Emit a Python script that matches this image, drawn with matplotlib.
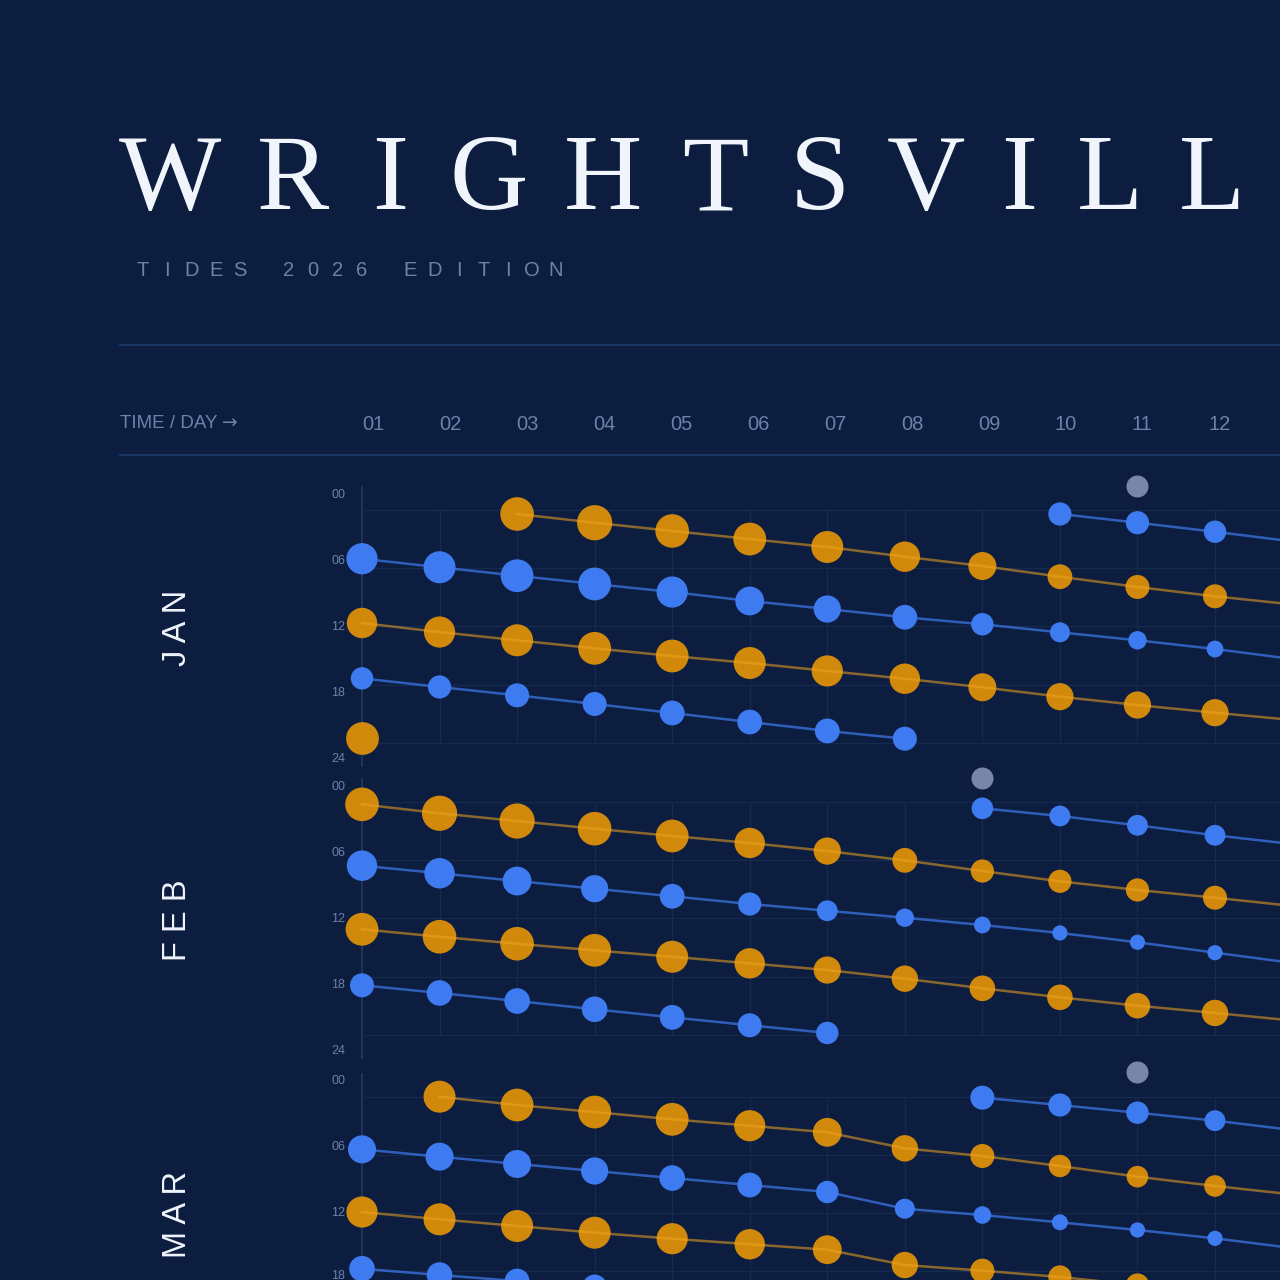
import numpy as np
import matplotlib
matplotlib.use('Agg')
import matplotlib.pyplot as plt
from matplotlib.lines import Line2D

# ─────────────────────────────────────────────
# DATA  (tide time in hours after midnight, size = tidal magnitude in ft)
# orange = high water, blue = low water; runs start on the given day
# ─────────────────────────────────────────────
DAY_LABELS = ['01', '02', '03', '04', '05', '06', '07', '08', '09', '10', '11', '12']
HOUR_LABELS = ['00', '06', '12', '18', '24']
MONTHS = ['JAN', 'FEB', 'MAR']

# January
jan_high1_day0 = 3
jan_high1_hour = [0.41, 1.31, 2.16, 2.99, 3.81, 4.81, 5.77, 6.87, 7.93, 8.89, 9.73]
jan_high1_ft = [4.2, 4.4, 4.2, 4.1, 4.0, 3.8, 3.5, 3.1, 3.0, 3.0, 3.0]
jan_low1_day0 = 1
jan_low1_hour = [5.02, 5.90, 6.77, 7.62, 8.45, 9.37, 10.20, 11.05, 11.77, 12.60, 13.42, 14.32, 15.35]
jan_low1_ft = [3.9, 4.0, 4.1, 4.1, 3.9, 3.6, 3.4, 3.1, 2.8, 2.5, 2.3, 2.1, 2.0]
jan_high2_day0 = 1
jan_high2_hour = [11.64, 12.57, 13.42, 14.25, 15.04, 15.76, 16.58, 17.38, 18.26, 19.23, 20.09, 20.88, 21.63]
jan_high2_ft = [3.8, 3.9, 4.0, 4.1, 4.1, 4.0, 3.9, 3.8, 3.5, 3.4, 3.4, 3.4, 3.0]
jan_low2_day0 = 1
jan_low2_hour = [17.34, 18.23, 19.09, 19.98, 20.91, 21.84, 22.76, 23.56]
jan_low2_ft = [2.8, 2.9, 3.0, 3.0, 3.1, 3.1, 3.1, 3.0]
jan_high3_day0 = 1
jan_high3_hour = [23.45]
jan_high3_ft = [4.1]
jan_low3_day0 = 10
jan_low3_hour = [0.41, 1.31, 2.24, 3.24]
jan_low3_ft = [2.9, 2.9, 2.8, 2.8]
jan_moon_day = 11

# February
feb_high1_day0 = 1
feb_high1_hour = [0.24, 1.16, 1.96, 2.75, 3.50, 4.22, 5.05, 6.01, 7.11, 8.17, 9.06, 9.86, 10.71]
feb_high1_ft = [4.2, 4.4, 4.4, 4.2, 4.1, 3.8, 3.4, 3.1, 2.9, 2.9, 2.9, 3.0, 3.0]
feb_low1_day0 = 1
feb_low1_hour = [6.56, 7.34, 8.14, 8.93, 9.71, 10.51, 11.20, 11.92, 12.67, 13.49, 14.45, 15.52, 16.58]
feb_low1_ft = [3.8, 3.8, 3.6, 3.4, 3.1, 2.9, 2.6, 2.3, 2.1, 1.9, 1.9, 1.9, 1.9]
feb_high2_day0 = 1
feb_high2_hour = [13.11, 13.88, 14.60, 15.28, 15.94, 16.62, 17.31, 18.20, 19.19, 20.12, 20.98, 21.73, 22.51]
feb_high2_ft = [4.1, 4.2, 4.2, 4.1, 4.0, 3.8, 3.4, 3.3, 3.2, 3.2, 3.2, 3.3, 3.0]
feb_low2_day0 = 1
feb_low2_hour = [18.88, 19.67, 20.50, 21.35, 22.18, 23.00, 23.79]
feb_low2_ft = [3.0, 3.2, 3.2, 3.2, 3.1, 3.0, 2.8]
feb_low3_day0 = 9
feb_low3_hour = [0.65, 1.44, 2.40, 3.43, 4.33]
feb_low3_ft = [2.7, 2.6, 2.6, 2.6, 2.6]
feb_moon_day = 9

# March (clock change between the 7th and the 8th)
mar_high1_day0 = 2
mar_high1_hour = [0.02, 0.88, 1.60, 2.35, 3.01, 3.69, 5.34, 6.13, 7.16, 8.26, 9.22, 10.09]
mar_high1_ft = [4.0, 4.1, 4.1, 4.1, 3.9, 3.6, 3.3, 3.0, 2.8, 2.7, 2.7, 2.8]
mar_low1_day0 = 1
mar_low1_hour = [5.44, 6.20, 6.95, 7.67, 8.40, 9.12, 9.84, 11.56, 12.21, 12.96, 13.75, 14.61, 15.61]
mar_low1_ft = [3.5, 3.5, 3.5, 3.4, 3.2, 3.1, 2.8, 2.5, 2.2, 2.0, 1.9, 1.9, 1.9]
mar_high2_day0 = 1
mar_high2_hour = [11.90, 12.65, 13.34, 14.03, 14.65, 15.22, 15.78, 17.36, 17.94, 18.59, 19.42, 20.24, 21.07]
mar_high2_ft = [3.9, 4.0, 4.0, 4.0, 3.9, 3.8, 3.6, 3.3, 3.0, 2.9, 2.9, 3.0, 3.0]
mar_low2_day0 = 1
mar_low2_hour = [17.74, 18.39, 19.01, 19.62, 20.24, 20.86, 21.48]
mar_low2_ft = [3.2, 3.2, 3.1, 3.1, 3.0, 2.9, 2.8]
mar_low3_day0 = 9
mar_low3_hour = [0.12, 0.88, 1.67, 2.49, 3.45]
mar_low3_ft = [3.0, 2.9, 2.8, 2.6, 2.6]
mar_moon_day = 11

panels = [
    ('JAN', [('high', jan_high1_day0, jan_high1_hour, jan_high1_ft),
             ('low', jan_low1_day0, jan_low1_hour, jan_low1_ft),
             ('high', jan_high2_day0, jan_high2_hour, jan_high2_ft),
             ('low', jan_low2_day0, jan_low2_hour, jan_low2_ft),
             ('high', jan_high3_day0, jan_high3_hour, jan_high3_ft),
             ('low', jan_low3_day0, jan_low3_hour, jan_low3_ft)], jan_moon_day),
    ('FEB', [('high', feb_high1_day0, feb_high1_hour, feb_high1_ft),
             ('low', feb_low1_day0, feb_low1_hour, feb_low1_ft),
             ('high', feb_high2_day0, feb_high2_hour, feb_high2_ft),
             ('low', feb_low2_day0, feb_low2_hour, feb_low2_ft),
             ('low', feb_low3_day0, feb_low3_hour, feb_low3_ft)], feb_moon_day),
    ('MAR', [('high', mar_high1_day0, mar_high1_hour, mar_high1_ft),
             ('low', mar_low1_day0, mar_low1_hour, mar_low1_ft),
             ('high', mar_high2_day0, mar_high2_hour, mar_high2_ft),
             ('low', mar_low2_day0, mar_low2_hour, mar_low2_ft),
             ('low', mar_low3_day0, mar_low3_hour, mar_low3_ft)], mar_moon_day),
]

# ─────────────────────────────────────────────
# STYLE / LAYOUT
# ─────────────────────────────────────────────
BG = '#0c1d3f'
HIGH = '#d1890c'
HIGH_LINE = '#f0a420'
LOW = '#3f7bf0'
MOON = '#7886aa'
GRID = '#142a4f'
SPINE = '#1c355f'
RULE = '#1b3764'
MUTED = '#6c82aa'
WHITE = '#f0f4fb'

W = H = 1280
DAY1_X, PX_DAY = 362, 77.545     # pixel x of day 1, pixels per day
PX_HOUR = 9.708                  # pixels per hour inside a month panel
PANEL_TOP = [510, 802, 1096.5]   # pixel y of 00:00 grid line
PX_FT = 8                        # dot diameter in px per ft


def fx(x):
    return x / W


def fy(y):
    return 1 - y / H


def dot_area(d_px):
    return (np.asarray(d_px) * 0.72) ** 2


fig = plt.figure(figsize=(12.8, 12.8), dpi=100)
fig.patch.set_facecolor(BG)

# ── Title block (letter-spaced masthead; the poster is cropped after the last L) ──
title_x = [170, 293, 390, 489, 603, 715, 820, 926, 1019, 1110, 1212]
for ch, cx in zip('WRIGHTSVILL', title_x):
    fig.text(fx(cx), fy(209), ch, ha='center', va='baseline', fontsize=78,
             family='Liberation Serif', color=WHITE)

sub = 'TIDES 2026 EDITION'
for i, ch in enumerate(sub):
    if ch != ' ':
        fig.text(fx(143 + 24.3 * i), fy(276), ch, ha='center', va='baseline',
                 fontsize=14.5, family='Liberation Sans', color=MUTED)

for y in (345, 455):
    fig.add_artist(Line2D([fx(120), 1.0], [fy(y), fy(y)], color=RULE, lw=1.4))

# ── Header row ──
fig.text(fx(120), fy(428.5), 'TIME / DAY', ha='left', va='baseline', fontsize=13.5,
         family='Liberation Sans', color=MUTED)
fig.text(fx(222), fy(428.5), '→', ha='left', va='baseline', fontsize=13.5,
         family='DejaVu Sans', color=MUTED)
for i, lab in enumerate(DAY_LABELS):
    fig.text(fx(362.7 + 76.9 * i), fy(430), lab, ha='left', va='baseline',
             fontsize=14.5, family='Liberation Sans', color=MUTED)

# ── Month panels ──
x_lo = 1 + (300 - DAY1_X) / PX_DAY
x_hi = 1 + (W - DAY1_X) / PX_DAY
label_base = [-1.24, 5.56, 12.36, 19.16, 25.96]
max_base = (H - 1.5) / PX_HOUR   # keep hour labels inside the canvas

for (month, series, moon), g0 in zip(panels, PANEL_TOP):
    top_px, bot_px = g0 - 45, g0 + 265
    ax = fig.add_axes([fx(300), fy(bot_px), (W - 300) / W, (bot_px - top_px) / H])
    ax.set_xlim(x_lo, x_hi)
    ax.set_ylim(265 / PX_HOUR, -45 / PX_HOUR)
    ax.axis('off')
    ax.patch.set_alpha(0)

    ax.hlines([0, 6, 12, 18, 24], 1, 14, color=GRID, lw=0.9, zorder=1)
    ax.vlines(np.arange(2, 14), 0, 24, color=GRID, lw=0.9, zorder=1)
    ax.vlines(1, -2.47, 26.47, color=SPINE, lw=1.5, zorder=1)

    for lab, yb in zip(HOUR_LABELS, label_base):
        if g0 + yb * PX_HOUR > H + 8:
            continue
        yb = min(yb, max_base - g0 / PX_HOUR)
        ax.text(1 + (345 - DAY1_X) / PX_DAY, yb, lab, ha='right', va='baseline',
                fontsize=9, family='Liberation Sans', color=MUTED)

    for kind, day0, hours, ft in series:
        days = np.arange(day0, day0 + len(hours))
        c = HIGH if kind == 'high' else LOW
        ax.scatter(days, hours, s=dot_area(np.array(ft) * PX_FT), color=c,
                   linewidths=0, zorder=3)
        if len(hours) > 1:
            if kind == 'high':
                ax.plot(days, hours, color=HIGH_LINE, lw=1.8, alpha=0.55, zorder=4)
            else:
                ax.plot(days, hours, color=LOW, lw=1.8, alpha=0.7, zorder=4)

    ax.scatter([moon], [-2.5], s=dot_area(22), color=MOON, linewidths=0, zorder=3)

    fig.text(fx(177), fy(g0 + 118), ' '.join(month), rotation=90, ha='center',
             va='center', fontsize=23.5, family='Liberation Sans', color=WHITE)

plt.savefig('out.png', dpi=100, facecolor=BG)
plt.close()
